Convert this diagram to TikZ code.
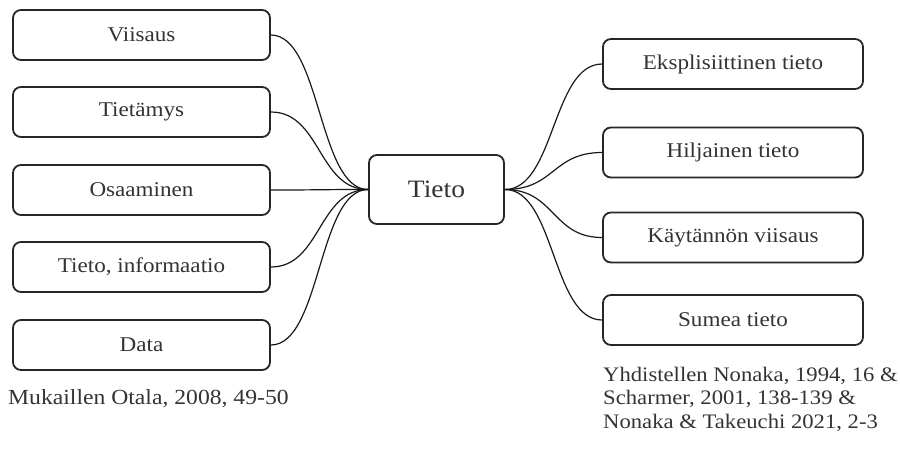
\documentclass[tikz,border=0pt]{standalone}
\usepackage{fontspec}
\setmainfont{Liberation Serif}[FakeStretch=1.1]
\begin{document}
\begin{tikzpicture}[x=1pt,y=-1pt,
  box/.style={draw=black!85, line width=1.8pt, rounded corners=8pt, fill=white,
    minimum width=257pt, minimum height=50pt, inner sep=0pt,
    font=\fontsize{21}{24}\selectfont, text=black!80},
  rbox/.style={box, minimum width=260pt},
  cbox/.style={box, minimum width=135pt, minimum height=69pt, font=\fontsize{25}{28}\selectfont},
  link/.style={draw=black!90, line width=1.2pt},
  note/.style={anchor=west, inner sep=0pt, align=left, text=black!80,
    font=\fontsize{21.5}{23.5}\selectfont}]
\useasboundingbox (0,0) rectangle (900,467);
% left boxes
\node[box] (v) at (141.5,35) {Viisaus};
\node[box] (tm) at (141.5,112) {Tietämys};
\node[box] (os) at (141.5,190) {Osaaminen};
\node[box] (ti) at (141.5,267) {Tieto, informaatio};
\node[box] (d) at (141.5,345) {Data};
% centre
\node[cbox] (c) at (436.5,189.5) {Tieto};
% right boxes
\node[rbox] (e) at (733,64) {Eksplisiittinen tieto};
\node[rbox] (h) at (733,152.5) {Hiljainen tieto};
\node[rbox] (k) at (733,237.5) {Käytännön viisaus};
\node[rbox] (s) at (733,320) {Sumea tieto};
% connectors
\foreach \n in {v,tm,os,ti,d}
  \draw[link] (\n.east) .. controls +(50,0) and +(-50,0) .. (c.west);
\foreach \n in {e,h,k,s}
  \draw[link] (c.east) .. controls +(50,0) and +(-50,0) .. (\n.west);
% notes
\node[note] (n1) at (8,399) {Mukaillen Otala, 2008, 49-50};
\node[note, font=\fontsize{20.6}{23.5}\selectfont] (n2) at (603,399) {Yhdistellen Nonaka, 1994, 16 \&\\Scharmer, 2001, 138-139 \&\\Nonaka \& Takeuchi 2021, 2-3};
\end{tikzpicture}
\end{document}
